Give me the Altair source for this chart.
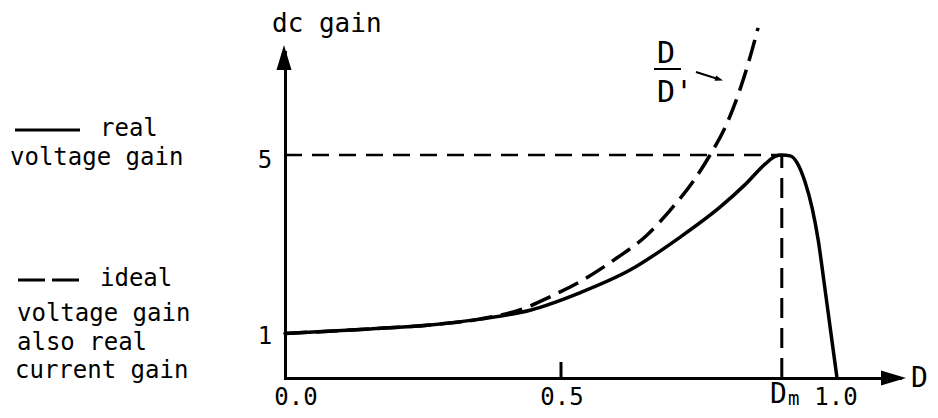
import altair as alt
import pandas as pd

# ---------------- data ----------------
D_REAL = [0.0, 0.154, 0.263, 0.353, 0.444, 0.534, 0.625, 0.716, 0.788, 0.833,
          0.870, 0.888, 0.900, 0.915, 0.928, 0.942, 0.955, 0.966, 0.976, 0.987, 1.0]
G_REAL = [1.0, 1.10, 1.19, 1.32, 1.52, 1.91, 2.42, 3.16, 3.83, 4.33,
          4.80, 4.97, 5.0, 4.98, 4.82, 4.40, 3.81, 3.09, 2.20, 1.19, 0.0]

D_IDEAL = [0.0, 0.154, 0.263, 0.353, 0.435, 0.480, 0.540, 0.601, 0.652, 0.701,
           0.739, 0.770, 0.801, 0.824, 0.841, 0.857]
G_IDEAL = [1.0, 1.10, 1.19, 1.32, 1.57, 1.82, 2.20, 2.69, 3.16, 3.81,
           4.40, 5.0, 5.72, 6.46, 7.13, 7.85]

D_M = 0.90           # duty ratio at the peak of the real gain
G_PEAK = 5           # peak real voltage gain
X_TICKS = [0.5]
X_TICK_LABELS = ["0.0", "0.5", "1.0"]
Y_TICK_LABELS = ["1", "5"]
LEGEND_REAL = ["real", "voltage gain"]
LEGEND_IDEAL = ["ideal", "voltage gain", "also real", "current gain"]
AXIS_TITLES = ["dc gain", "D"]
DM_LABEL = ["D", "m"]
CURVE_LABEL = ["D", "D'"]

# ---------------- layout ----------------
PX0, PY0 = 285, 52          # page position of the plot area's top-left
W, H = 615, 326             # plot area size
XMAX = W / 552.0            # 552 px per unit of D
YMAX = H / 44.6             # 44.6 px per unit of gain
FONT = "DejaVu Sans Mono"
INK = "black"

xs = alt.Scale(domain=[0, XMAX], nice=False, zero=False)
ys = alt.Scale(domain=[0, YMAX], nice=False, zero=False)
ax = alt.Axis(domain=True, ticks=False, labels=False, grid=False, title="",
              domainColor=INK, domainWidth=3, domainCap="square")


def X(field="D"):
    return alt.X(f"{field}:Q", scale=xs, axis=ax)


def Y(field="G"):
    return alt.Y(f"{field}:Q", scale=ys, axis=ax)


one = pd.DataFrame({"k": [0]})

df_real = pd.DataFrame({"D": D_REAL, "G": G_REAL})
df_ideal = pd.DataFrame({"D": D_IDEAL, "G": G_IDEAL})
df_h = pd.DataFrame({"D": [0.0], "D2": [D_M], "G": [G_PEAK]})
df_v = pd.DataFrame({"D": [D_M], "G": [0.0], "G2": [G_PEAK]})
df_tick = pd.DataFrame({"D": X_TICKS})

ideal = alt.Chart(df_ideal).mark_line(
    color=INK, strokeWidth=3.5, strokeDash=[22, 9], interpolate="monotone"
).encode(x=X(), y=Y())

real = alt.Chart(df_real).mark_line(
    color=INK, strokeWidth=3.5, interpolate="monotone", strokeCap="round"
).encode(x=X(), y=Y())

hline = alt.Chart(df_h).mark_rule(color=INK, strokeWidth=2.5, strokeDash=[17, 10]).encode(
    x=X(), x2="D2:Q", y=Y())
vline = alt.Chart(df_v).mark_rule(color=INK, strokeWidth=3, strokeDash=[20, 10]).encode(
    x=X(), y=Y(), y2="G2:Q")

tick = alt.Chart(df_tick).mark_rule(color=INK, strokeWidth=3).encode(
    x=X(), y=alt.value(H), y2=alt.value(H - 16))


def px(v):
    return v - PX0


def py(v):
    return v - PY0


arrow_up = alt.Chart(one).mark_point(
    shape="M0,0 L0.6,2 L-0.6,2 Z", size=625, filled=True, color=INK, opacity=1, strokeWidth=0
).encode(x=alt.value(px(284)), y=alt.value(py(45)))

arrow_right = alt.Chart(one).mark_point(
    shape="M0,0 L-2,-0.6 L-2,0.6 Z", size=625, filled=True, color=INK, opacity=1, strokeWidth=0
).encode(x=alt.value(px(906)), y=alt.value(H))

pointer = alt.Chart(one).mark_rule(color=INK, strokeWidth=2).encode(
    x=alt.value(px(696)), x2=alt.value(px(718)), y=alt.value(py(72)), y2=alt.value(py(79)))
pointer_head = alt.Chart(one).mark_point(
    shape="M0,0 L-2,-0.7 L-2,0.7 Z", size=64, filled=True, color=INK, opacity=1,
    strokeWidth=0, angle=17
).encode(x=alt.value(px(723)), y=alt.value(py(80.5)))

frac_bar = alt.Chart(one).mark_rule(color=INK, strokeWidth=2).encode(
    x=alt.value(px(654)), x2=alt.value(px(681)), y=alt.value(py(69)))

leg_solid = alt.Chart(one).mark_rule(color=INK, strokeWidth=3).encode(
    x=alt.value(px(15)), x2=alt.value(px(80)), y=alt.value(py(130)))
leg_dash = alt.Chart(one).mark_rule(color=INK, strokeWidth=3, strokeDash=[27, 7]).encode(
    x=alt.value(px(18)), x2=alt.value(px(79)), y=alt.value(py(280)))


def label(text, x, y, size=24, align="left"):
    return alt.Chart(one).mark_text(
        text=text, font=FONT, fontSize=size, align=align, baseline="alphabetic", color=INK
    ).encode(x=alt.value(px(x)), y=alt.value(py(y)))


texts = [
    label(LEGEND_REAL[0], 100, 136),
    label(LEGEND_REAL[1], 10, 165),
    label(LEGEND_IDEAL[0], 100, 286),
    label(LEGEND_IDEAL[1], 17, 321),
    label(LEGEND_IDEAL[2], 17, 350),
    label(LEGEND_IDEAL[3], 15, 378),
    label(AXIS_TITLES[0], 272, 32, size=26),
    label(AXIS_TITLES[1], 911, 387, size=28),
    label(Y_TICK_LABELS[0], 265, 344, align="center"),
    label(Y_TICK_LABELS[1], 265, 168, align="center"),
    label(X_TICK_LABELS[0], 296, 405, align="center"),
    label(X_TICK_LABELS[1], 562, 405, align="center"),
    label(X_TICK_LABELS[2], 836, 405, align="center"),
    label(DM_LABEL[0], 770, 403, size=28),
    label(DM_LABEL[1], 788, 405, size=19),
    label(CURVE_LABEL[0], 657, 63, size=30),
    label(CURVE_LABEL[1], 657, 102, size=30),
]

chart = alt.layer(
    ideal, real, hline, vline, tick, arrow_up, arrow_right,
    pointer, pointer_head, frac_bar, leg_solid, leg_dash, *texts
).properties(
    width=W, height=H,
    padding={"left": PX0 - 8, "top": PY0 - 8, "right": 922 - (PX0 - 8) - W, "bottom": 402 - (PY0 - 8) - H},
    autosize=alt.AutoSizeParams(type="none"),
    background="white",
).configure_view(strokeWidth=0)

chart.save("out.html", embed_options={"renderer": "svg", "actions": False})
